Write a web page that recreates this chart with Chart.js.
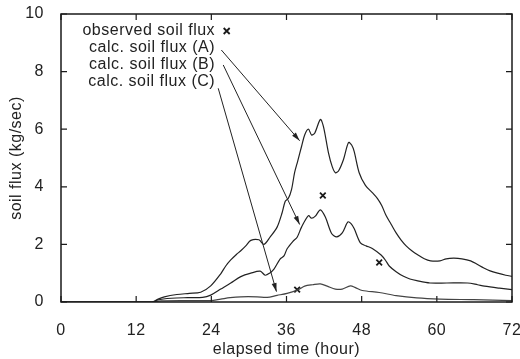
<!DOCTYPE html>
<html>
<head>
<meta charset="utf-8">
<script src="https://cdn.jsdelivr.net/npm/chart.js@4"></script>
<style>
  body { margin: 0; background: #fff; }
  canvas { display: block; }
</style>
</head>
<body>
<canvas id="chart" width="520" height="359"></canvas>
<script>
// elapsed time (hour) / soil flux (kg/sec)
var hoursA = [0, 14.5, 15.5, 16.5, 18.5, 20.5, 22.3, 23.9, 25.5, 26.3, 27.1, 28.0, 28.7, 29.5, 30.3, 31.6, 32.4, 33.4, 34.5, 35.3, 35.8, 36.3, 36.8, 37.3, 37.8, 38.4, 38.9, 39.5, 40.0, 40.5, 41.4, 41.9, 42.7, 43.3, 43.8, 44.3, 45.1, 45.9, 46.4, 46.8, 47.6, 48.6, 49.7, 50.5, 51.2, 51.9, 52.7, 53.5, 54.3, 55.1, 56.0, 57.0, 58.0, 59.0, 60.5, 61.5, 62.7, 64.0, 65.4, 66.5, 67.5, 68.5, 69.7, 71.0, 72.0];
var fluxA  = [0, 0, 0.1, 0.18, 0.26, 0.3, 0.34, 0.56, 0.98, 1.25, 1.46, 1.65, 1.78, 1.95, 2.14, 2.16, 2.0, 2.26, 2.6, 3.1, 3.5, 3.6, 3.9, 4.5, 4.9, 5.4, 5.8, 6.0, 5.8, 5.86, 6.34, 6.09, 5.18, 4.7, 4.49, 4.55, 4.95, 5.54, 5.45, 5.23, 4.49, 4.05, 3.8, 3.6, 3.35, 3.0, 2.7, 2.4, 2.15, 1.95, 1.78, 1.63, 1.5, 1.43, 1.43, 1.5, 1.52, 1.5, 1.43, 1.3, 1.18, 1.08, 1.0, 0.93, 0.89];

var hoursB = [0, 14.8, 15.4, 17.6, 20.2, 22.6, 23.9, 25.5, 27.1, 28.7, 30.3, 31.8, 32.6, 33.3, 34.0, 35.0, 35.6, 36.1, 37.0, 37.7, 38.4, 39.5, 40.0, 40.6, 41.4, 42.2, 43.2, 44.0, 44.9, 45.8, 46.3, 46.8, 47.8, 48.7, 49.7, 51.1, 51.8, 52.4, 53.5, 54.6, 55.7, 56.8, 58.9, 61.6, 64.9, 66.5, 67.6, 70.0, 72.0];
var fluxB  = [0, 0, 0.07, 0.13, 0.15, 0.16, 0.24, 0.45, 0.66, 0.88, 1.0, 1.07, 0.93, 1.0, 1.14, 1.5, 1.6, 1.85, 2.1, 2.25, 2.6, 3.0, 2.91, 2.98, 3.2, 2.95, 2.38, 2.26, 2.4, 2.78, 2.72, 2.55, 2.05, 1.95, 1.86, 1.63, 1.45, 1.25, 1.05, 0.9, 0.8, 0.74, 0.66, 0.66, 0.66, 0.6, 0.55, 0.48, 0.43];

var hoursC = [0, 14.5, 16.0, 20.0, 23.9, 25.5, 27.0, 28.7, 31.3, 32.9, 34.5, 36.1, 37.9, 38.9, 40.2, 41.4, 42.5, 43.8, 44.9, 46.2, 47.0, 48.1, 50.8, 53.5, 56.8, 60.5, 65.9, 72.0];
var fluxC  = [0, 0, 0.04, 0.05, 0.05, 0.1, 0.15, 0.18, 0.18, 0.16, 0.23, 0.3, 0.43, 0.55, 0.6, 0.63, 0.55, 0.45, 0.45, 0.56, 0.5, 0.4, 0.33, 0.22, 0.14, 0.1, 0.08, 0.05];

var obsHours = [37.7, 41.8, 50.8];
var obsFlux  = [0.43, 3.7, 1.37];

var keyLabels = ['observed soil flux', 'calc. soil flux (A)', 'calc. soil flux (B)', 'calc. soil flux (C)'];

function pts(xs, ys) {
    return xs.map(function(x, i) { return {x: x, y: ys[i]}; });
}

var ink = '#1a1a1a';
var font = {family: '"Liberation Sans", Arial, sans-serif', size: 16};

// key text and arrows, placed in data units
var keyRight = 24.6, keyX = 26.45;
var keyRows = [9.41, 8.83, 8.25, 7.67];
var arrows = [
    {from: [25.6, 8.75], to: [38.1, 5.6]},
    {from: [25.9, 8.23], to: [38.1, 2.69]},
    {from: [25.1, 7.42], to: [34.4, 0.36]}
];

function cross(ctx, cx, cy, r) {
    ctx.moveTo(cx - r, cy - r); ctx.lineTo(cx + r, cy + r);
    ctx.moveTo(cx - r, cy + r); ctx.lineTo(cx + r, cy - r);
}

var framePlugin = {
    id: 'frame',
    beforeDraw: function(chart) {
        chart.ctx.letterSpacing = '0.5px';
    },
    afterDraw: function(chart) {
        var ctx = chart.ctx, a = chart.chartArea;
        var xs = chart.scales.x, ys = chart.scales.y;
        ctx.save();
        ctx.strokeStyle = ink;
        ctx.lineWidth = 1.5;
        ctx.strokeRect(a.left, a.top, a.right - a.left, a.bottom - a.top);
        ctx.lineWidth = 1.2;
        ctx.beginPath();
        xs.ticks.forEach(function(t) {
            var px = xs.getPixelForValue(t.value);
            ctx.moveTo(px, a.bottom); ctx.lineTo(px, a.bottom - 6);
            ctx.moveTo(px, a.top); ctx.lineTo(px, a.top + 6);
        });
        ys.ticks.forEach(function(t) {
            var py = ys.getPixelForValue(t.value);
            ctx.moveTo(a.left, py); ctx.lineTo(a.left + 6, py);
            ctx.moveTo(a.right, py); ctx.lineTo(a.right - 6, py);
        });
        ctx.stroke();

        // key
        ctx.fillStyle = '#222';
        ctx.font = '16px "Liberation Sans", Arial, sans-serif';
        ctx.letterSpacing = '0.5px';
        ctx.textAlign = 'right';
        ctx.textBaseline = 'middle';
        keyLabels.forEach(function(txt, i) {
            ctx.fillText(txt, xs.getPixelForValue(keyRight), ys.getPixelForValue(keyRows[i]));
        });
        ctx.lineWidth = 1.8;
        ctx.beginPath();
        cross(ctx, xs.getPixelForValue(keyX), ys.getPixelForValue(keyRows[0]), 3);
        ctx.stroke();

        // arrows
        ctx.lineWidth = 1;
        ctx.strokeStyle = '#222';
        arrows.forEach(function(ar) {
            var x0 = xs.getPixelForValue(ar.from[0]), y0 = ys.getPixelForValue(ar.from[1]);
            var x1 = xs.getPixelForValue(ar.to[0]), y1 = ys.getPixelForValue(ar.to[1]);
            var ang = Math.atan2(y1 - y0, x1 - x0);
            ctx.beginPath();
            ctx.moveTo(x0, y0); ctx.lineTo(x1, y1);
            ctx.stroke();
            ctx.beginPath();
            ctx.moveTo(x1, y1);
            ctx.lineTo(x1 - 9 * Math.cos(ang - 0.28), y1 - 9 * Math.sin(ang - 0.28));
            ctx.lineTo(x1 - 9 * Math.cos(ang + 0.28), y1 - 9 * Math.sin(ang + 0.28));
            ctx.closePath();
            ctx.fill();
        });
        ctx.restore();
    }
};

function curve(data, color) {
    return {
        type: 'line', data: data, borderColor: color, borderWidth: 1.2,
        pointRadius: 0, tension: 0.3, fill: false
    };
}

new Chart(document.getElementById('chart'), {
    type: 'line',
    data: {
        datasets: [
            curve(pts(hoursA, fluxA), '#222'),
            curve(pts(hoursB, fluxB), '#222'),
            curve(pts(hoursC, fluxC), '#444'),
            {
                type: 'scatter', data: pts(obsHours, obsFlux), showLine: false,
                pointStyle: 'crossRot', pointRadius: 4, borderWidth: 1.8,
                borderColor: ink, backgroundColor: ink
            }
        ]
    },
    options: {
        responsive: false,
        animation: false,
        layout: {padding: {top: 14, right: 8, left: 0, bottom: 0}},
        plugins: {legend: {display: false}, tooltip: {enabled: false}},
        scales: {
            x: {
                type: 'linear', min: 0, max: 72,
                ticks: {stepSize: 12, padding: 11, color: '#222', font: font},
                grid: {display: false}, border: {display: false},
                title: {display: true, text: 'elapsed time (hour)', color: '#222', font: font, padding: {top: 0, bottom: 0}},
                afterFit: function(s) { s.height = 57; s.paddingLeft = 0; s.paddingRight = 0; }
            },
            y: {
                type: 'linear', min: 0, max: 10,
                ticks: {stepSize: 2, padding: 9, color: '#222', font: font},
                grid: {display: false}, border: {display: false},
                title: {display: true, text: 'soil flux (kg/sec)', color: '#222', font: font, padding: {top: 7, bottom: 0}},
                afterFit: function(s) { s.width = 61; s.paddingTop = 0; s.paddingBottom = 0; }
            }
        }
    },
    plugins: [framePlugin]
});
</script>
</body>
</html>
